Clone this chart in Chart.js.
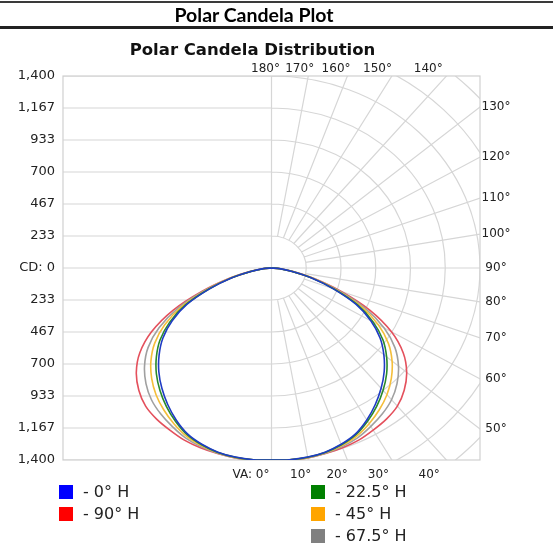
<!DOCTYPE html>
<html><head><meta charset="utf-8">
<script src="https://cdn.jsdelivr.net/npm/chart.js@4"></script>
<style>
html,body{margin:0;padding:0;background:#fff;width:553px;height:544px;overflow:hidden;}
#wrap{position:relative;width:553px;height:544px;}
#c{position:absolute;left:0;top:0;}
#hdr{position:absolute;left:0;top:1px;width:553px;height:23px;border-top:2px solid #3a3a3a;border-bottom:3px solid #222;}
#hdrText{position:absolute;left:0;top:0;width:508px;text-align:center;font:bold 19.5px Lato, sans-serif;line-height:24px;color:#000;}
#title{position:absolute;left:0;width:505px;top:40px;text-align:center;font:bold 16.5px "DejaVu Sans";color:#111;line-height:20px;}
.lg{position:absolute;font:16px "DejaVu Sans";color:#222;height:14px;line-height:14px;white-space:nowrap;}
.sw{display:inline-block;width:14px;height:14px;vertical-align:top;margin-right:10px;}
</style></head>
<body><div id="wrap">
<canvas id="c" width="553" height="544"></canvas>
<div id="hdr"><div id="hdrText">Polar Candela Plot</div></div>
<div id="title">Polar Candela Distribution</div>
<div id="legend"></div>
</div>
<script>
// Vertical angles (deg, 0 = straight down)
const vAngles = [0,5,10,15,20,25,30,35,40,45,50,55,60,65,70,75,80,85,90];
// Candela values per horizontal plane
const cdH0    = [1400,1403,1400,1390,1368,1335,1280,1215,1145,1070,985,890,770,625,440,275,135,55,0];
const cdH22_5 = [1400,1403,1401,1392,1372,1341,1290,1231,1165,1093,1009,913,789,638,447,278,136,56,0];
const cdH45   = [1400,1404,1403,1395,1378,1353,1311,1262,1206,1138,1057,958,828,663,460,283,139,57,0];
const cdH67_5 = [1400,1404,1404,1398,1386,1367,1334,1298,1254,1192,1113,1012,872,692,475,289,141,58,0];
const cdH90   = [1400,1405,1406,1401,1395,1385,1365,1345,1315,1260,1185,1080,930,730,495,296,142,60,0];
const seriesNames = ['- 0° H','- 22.5° H','- 45° H','- 67.5° H','- 90° H'];
const lineColors  = ['#1f3cc4','#2a8a2a','#f4be3a','#a0a0a0','#e4505c'];
const swatchColors= ['#0000ff','#008000','#ffa500','#808080','#ff0000'];
// Y tick values / labels (candela)
const yTickValues = [-1400,-1166.67,-933.33,-700,-466.67,-233.33,0,233.33,466.67,700,933.33,1166.67,1400];
const yTickLabels = ['1,400','1,167','933','700','467','233','CD: 0','233','467','700','933','1,167','1,400'];
// Polar grid
const ringRadii = [233.33,466.67,700,933.33,1166.67,1400,1633.33,1866.67,2100];
const radialAngles = [10,20,30,40,50,60,70,80,90,100,110,120,130,140,150,160,170];
const topAngleLabels = [180,170,160,150,140];
const bottomAngleLabels = [0,10,20,30,40];
const rightAngleLabels = [130,120,110,100,90,80,70,60,50];
const cdMax = 1400;

const rad = d => d*Math.PI/180;
function curve(values){
  const pts = [];
  for(let i=vAngles.length-1;i>=0;i--){ const a=rad(vAngles[i]); pts.push({x:-values[i]*Math.sin(a), y:-values[i]*Math.cos(a)}); }
  for(let i=1;i<vAngles.length;i++){ const a=rad(vAngles[i]); pts.push({x:values[i]*Math.sin(a), y:-values[i]*Math.cos(a)}); }
  return pts;
}
const allSeries = [cdH0, cdH22_5, cdH45, cdH67_5, cdH90];

const gridColor = '#d6d6d6';
const polarGrid = {
  id:'polarGrid',
  beforeDatasetsDraw(chart){
    const {ctx, chartArea:a, scales:{x,y}} = chart;
    const cx = x.getPixelForValue(0), cy = y.getPixelForValue(0);
    ctx.save();
    ctx.beginPath(); ctx.rect(a.left,a.top,a.right-a.left,a.bottom-a.top); ctx.clip();
    ctx.strokeStyle = gridColor; ctx.lineWidth = 1.2;
    ctx.beginPath();
    y.ticks.forEach(t=>{
      const py = y.getPixelForValue(t.value);
      ctx.moveTo(a.left, py); ctx.lineTo(t.value===0 ? a.right : cx, py);
    });
    ctx.moveTo(cx, a.top); ctx.lineTo(cx, a.bottom);
    ringRadii.forEach(r=>{
      const rx = x.getPixelForValue(r)-cx, ry = cy - y.getPixelForValue(r);
      ctx.moveTo(cx, cy-ry);
      ctx.ellipse(cx, cy, rx, ry, 0, -Math.PI/2, Math.PI/2);
    });
    radialAngles.forEach(va=>{
      const s=Math.sin(rad(va)), c=Math.cos(rad(va));
      const r0 = va===90 ? 0 : ringRadii[0], r1 = 2200;
      ctx.moveTo(x.getPixelForValue(r0*s), y.getPixelForValue(-r0*c));
      ctx.lineTo(x.getPixelForValue(r1*s), y.getPixelForValue(-r1*c));
    });
    ctx.stroke();
    ctx.restore();
    ctx.save();
    ctx.strokeStyle = '#d0d0d0'; ctx.lineWidth = 1.2;
    ctx.strokeRect(a.left, a.top, a.right-a.left, a.bottom-a.top);
    ctx.restore();
  },
  afterDraw(chart){
    const {ctx, chartArea:a, scales:{x,y}} = chart;
    ctx.save();
    ctx.font = '12px "DejaVu Sans"'; ctx.fillStyle = '#222'; ctx.textBaseline='middle';
    ctx.textAlign='center';
    topAngleLabels.forEach(va=>{
      const X = cdMax*Math.tan(rad(180-va));
      ctx.fillText(va+'°', x.getPixelForValue(X*0.93)-6, a.top-7);
    });
    bottomAngleLabels.forEach(va=>{
      const X = cdMax*Math.tan(rad(va));
      if(va===0){ ctx.textAlign='right'; ctx.fillText('VA: 0°', x.getPixelForValue(0)-2, a.bottom+15); ctx.textAlign='center'; }
      else ctx.fillText(va+'°', x.getPixelForValue(X*0.93)-5, a.bottom+15);
    });
    rightAngleLabels.forEach(va=>{
      const Y = -cdMax/Math.tan(rad(va));
      ctx.fillText(va+'°', a.right+16, y.getPixelForValue(Y));
    });
    ctx.restore();
  }
};

const chart = new Chart(document.getElementById('c'), {
  type:'scatter',
  data:{ datasets: allSeries.map((v,i)=>({
    label: seriesNames[i], data: curve(v), showLine:true, borderColor: lineColors[i],
    backgroundColor: lineColors[i], borderWidth:1.6, pointRadius:0, tension:0.25, fill:false
  }))},
  options:{
    responsive:false, animation:false,
    layout:{padding:{top:76,right:73,bottom:84,left:0}},
    plugins:{legend:{display:false}, title:{display:false}, tooltip:{enabled:false}},
    scales:{
      x:{type:'linear', min:-cdMax, max:cdMax, display:false},
      y:{type:'linear', min:-cdMax, max:cdMax,
         afterBuildTicks(s){ s.ticks = yTickValues.map(v=>({value:v})); },
         afterFit(s){ s.width = 63; },
         grid:{display:false}, border:{display:false},
         ticks:{autoSkip:false, padding:0, color:'#222', font:{family:'DejaVu Sans', size:13},
           callback(v){ const i = yTickValues.findIndex(t=>Math.abs(t-v)<0.1); return i>=0 ? yTickLabels[i] : ''; }}
      }
    }
  },
  plugins:[polarGrid]
});

// Custom two-column legend built from datasets
const legendCols = [[0,4],[1,2,3]];
const colX = [59,311], rowY = [485,507,529];
const lg = document.getElementById('legend');
legendCols.forEach((col,ci)=>col.forEach((di,ri)=>{
  const d = document.createElement('div'); d.className='lg';
  d.style.left = colX[ci]+'px'; d.style.top = rowY[ri]+'px';
  const sw = document.createElement('span'); sw.className='sw'; sw.style.background = swatchColors[di];
  d.appendChild(sw); d.appendChild(document.createTextNode(chart.data.datasets[di].label));
  lg.appendChild(d);
}));
</script>
</body></html>
